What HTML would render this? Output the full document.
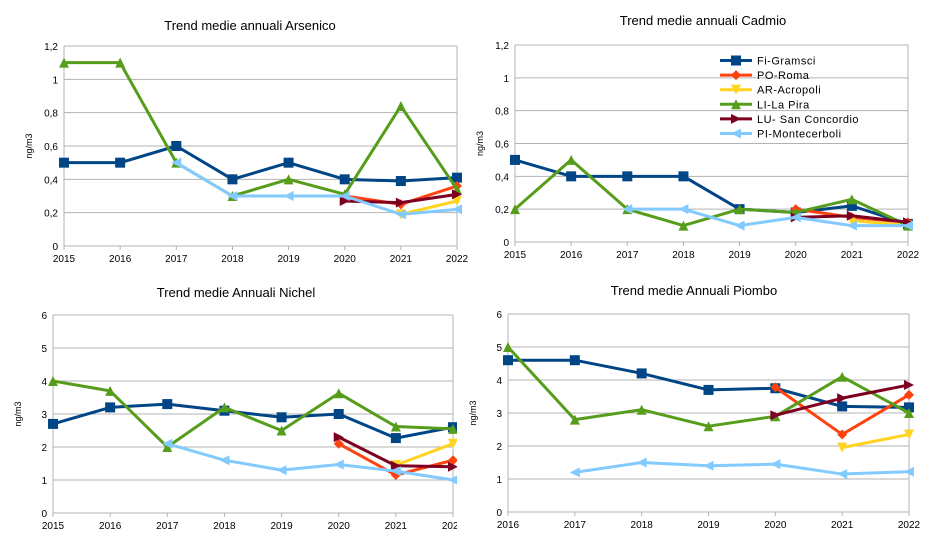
<!DOCTYPE html>
<html><head><meta charset="utf-8"><style>
html,body{margin:0;padding:0;background:#fff;width:930px;height:538px;overflow:hidden}
svg{display:block;font-family:"Liberation Sans",sans-serif}
</style></head><body>
<svg id="s" width="930" height="538"></svg>
<script>
const seriesNames=["Fi-Gramsci","PO-Roma","AR-Acropoli","LI-La Pira","LU- San Concordio","PI-Montecerboli"];
const colors=["#004586","#ff420e","#ffd320","#579d1c","#7e0021","#83caff"];
const markers=["square","diamond","tdown","tup","tright","tleft"];
const yearsA=[2015,2016,2017,2018,2019,2020,2021,2022];
const yearsP=[2016,2017,2018,2019,2020,2021,2022];
// Arsenico
const arsFi=[0.5,0.5,0.6,0.4,0.5,0.4,0.39,0.41];
const arsPO=[null,null,null,null,null,0.3,0.25,0.36];
const arsAR=[null,null,null,null,null,null,0.19,0.27];
const arsLI=[1.1,1.1,0.5,0.3,0.4,0.31,0.84,0.34];
const arsLU=[null,null,null,null,null,0.27,0.26,0.31];
const arsPI=[null,null,0.5,0.3,0.3,0.3,0.19,0.22];
// Cadmio
const cadFi=[0.5,0.4,0.4,0.4,0.2,0.18,0.22,0.11];
const cadPO=[null,null,null,null,null,0.2,0.15,0.12];
const cadAR=[null,null,null,null,null,null,0.13,0.1];
const cadLI=[0.2,0.5,0.2,0.1,0.2,0.18,0.26,0.1];
const cadLU=[null,null,null,null,null,0.15,0.16,0.12];
const cadPI=[null,null,0.2,0.2,0.1,0.15,0.1,0.1];
// Nichel
const niFi=[2.7,3.2,3.3,3.1,2.9,3.0,2.27,2.6];
const niPO=[null,null,null,null,null,2.1,1.15,1.6];
const niAR=[null,null,null,null,null,null,1.45,2.1];
const niLI=[4,3.7,2,3.2,2.5,3.63,2.62,2.55];
const niLU=[null,null,null,null,null,2.3,1.43,1.4];
const niPI=[null,null,2.1,1.6,1.3,1.47,1.27,1.0];
// Piombo
const pbFi=[4.6,4.6,4.2,3.7,3.75,3.2,3.17];
const pbPO=[null,null,null,null,3.78,2.35,3.55];
const pbAR=[null,null,null,null,null,1.95,2.35];
const pbLI=[5,2.8,3.1,2.6,2.9,4.1,3.0];
const pbLU=[null,null,null,null,2.93,3.45,3.85];
const pbPI=[null,1.2,1.5,1.4,1.45,1.15,1.22];
const ticksSmall=["0","0,2","0,4","0,6","0,8","1","1,2"];
const ticksBig=["0","1","2","3","4","5","6"];

const NS="http://www.w3.org/2000/svg";
const svg=document.getElementById('s');
function el(tag,attrs,parent,txt){const e=document.createElementNS(NS,tag);for(const k in attrs)e.setAttribute(k,attrs[k]);if(txt!=null)e.textContent=txt;(parent||svg).appendChild(e);return e;}

function chart(cfg){
  const g=el('g',{});
  
  
  if(cfg.clip){
    const cp=el('clipPath',{id:cfg.name+'-clip'},g);
    el('rect',{x:0,y:280,width:cfg.clip,height:258},cp);
    g.setAttribute('clip-path','url(#'+cfg.name+'-clip)');
  }
  const n=cfg.years.length;
  const xs=i=>cfg.x0+(cfg.x1-cfg.x0)*i/(n-1);
  const ys=v=>cfg.y0-(cfg.y0-cfg.y1)*v/cfg.ymax;
  const t=el('text',{x:cfg.tx,y:cfg.ty,'font-size':13,'text-anchor':'middle',fill:'#000'},g,cfg.title);
  
  
  cfg.ticks.forEach((lab,i)=>{
    const v=cfg.ymax*i/(cfg.ticks.length-1);const y=ys(v);
    el('line',{x1:cfg.x0,x2:cfg.x1,y1:y,y2:y,stroke:'#b3b3b3','stroke-width':1},g);
    const tl=el('text',{x:cfg.x0-6,y:y+4,'font-size':10,'text-anchor':'end',fill:'#000'},g,lab);
    
    
  });
  el('line',{x1:cfg.x0,x2:cfg.x0,y1:cfg.y1,y2:cfg.y0,stroke:'#b3b3b3'},g);
  el('line',{x1:cfg.x1,x2:cfg.x1,y1:cfg.y1,y2:cfg.y0,stroke:'#b3b3b3'},g);
  cfg.years.forEach((yr,i)=>{
    const x=xs(i);
    el('line',{x1:x,x2:x,y1:cfg.y0,y2:cfg.y0+4,stroke:'#b3b3b3'},g);
    const xl=el('text',{x:x,y:cfg.y0+16,'font-size':10,'text-anchor':'middle',fill:'#000'},g,String(yr));
    
    
  });
  const ym=(cfg.y0+cfg.y1)/2;
  const yt=el('text',{x:cfg.x0-32,y:ym,'font-size':9,'text-anchor':'middle',transform:`rotate(-90 ${cfg.x0-32} ${ym})`},g,'ng/m3');
  
  
  cfg.series.forEach((vals,si)=>{
    const pts=[];vals.forEach((v,i)=>{if(v!=null)pts.push([xs(i),ys(v)]);});
    const pl=el('polyline',{points:pts.map(p=>p.join(',')).join(' '),fill:'none',stroke:colors[si],'stroke-width':3,'stroke-linejoin':'round'},g);
    
    
    pts.forEach(p=>{const m=marker(g,markers[si],p[0],p[1],colors[si]);
      
      });
  });
  return g;
}
function marker(g,type,x,y,c){
  const s=5;
  if(type==='square')return el('rect',{x:x-s,y:y-s,width:2*s,height:2*s,fill:c},g);
  let p;
  if(type==='diamond')p=[[x,y-s],[x+s,y],[x,y+s],[x-s,y]];
  if(type==='tup')p=[[x,y-s],[x+s,y+s],[x-s,y+s]];
  if(type==='tdown')p=[[x-s,y-s],[x+s,y-s],[x,y+s]];
  if(type==='tright')p=[[x-s,y-s],[x+s,y],[x-s,y+s]];
  if(type==='tleft')p=[[x+s,y-s],[x-s,y],[x+s,y+s]];
  return el('polygon',{points:p.map(q=>q.join(',')).join(' '),fill:c},g);
}
chart({name:'chart-arsenico',title:'Trend medie annuali Arsenico',tx:250,ty:30,years:yearsA,x0:64,x1:457,y0:246,y1:46,ymax:1.2,ticks:ticksSmall,series:[arsFi,arsPO,arsAR,arsLI,arsLU,arsPI]});
const cg=chart({name:'chart-cadmio',title:'Trend medie annuali Cadmio',tx:703,ty:25,years:yearsA,x0:515,x1:908,y0:242,y1:45,ymax:1.2,ticks:ticksSmall,series:[cadFi,cadPO,cadAR,cadLI,cadLU,cadPI]});
chart({name:'chart-nichel',title:'Trend medie Annuali Nichel',tx:236,ty:297,years:yearsA,x0:53,x1:453,y0:513,y1:315,ymax:6,ticks:ticksBig,series:[niFi,niPO,niAR,niLI,niLU,niPI],clip:457});
chart({name:'chart-piombo',title:'Trend medie Annuali Piombo',tx:694,ty:295,years:yearsP,x0:508,x1:909,y0:512,y1:314,ymax:6,ticks:ticksBig,series:[pbFi,pbPO,pbAR,pbLI,pbLU,pbPI]});
// legend
const lg=el('g',{},cg);


seriesNames.forEach((nm,i)=>{
  const y=60.5+i*14.6;
  const e=el('g',{},lg);
  
  
  el('line',{x1:720,x2:752,y1:y,y2:y,stroke:colors[i],'stroke-width':3},e);
  marker(e,markers[i],736,y,colors[i]);
  el('text',{x:757,y:y+4,'font-size':11,fill:'#000','letter-spacing':'0.5'},e,nm);
});
</script>
</body></html>
